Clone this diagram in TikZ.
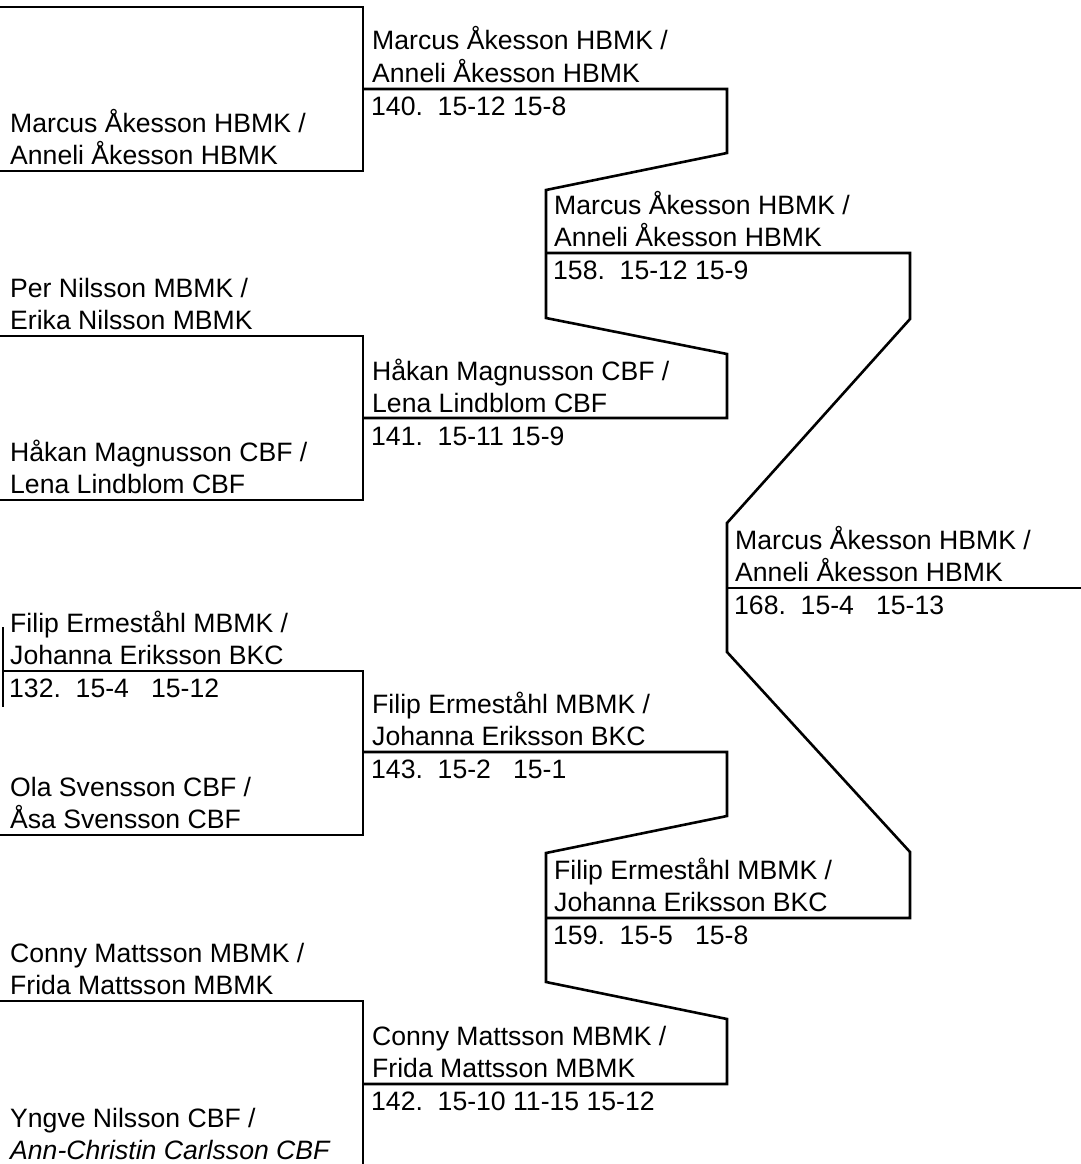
\documentclass[tikz,border=0pt]{standalone}
\usepackage{fontspec}
\setmainfont{Liberation Sans}
\begin{document}
\begin{tikzpicture}[x=1pt,y=-1pt,
  ln/.style={line width=2.6pt, line join=miter},
  txt/.style={anchor=base west, inner sep=0pt, font=\fontsize{26.6}{31}\selectfont},
]
\useasboundingbox (0,0) rectangle (1081,1164);
\clip (0,0) rectangle (1081,1164);

% ---- round 1 brackets ----
\draw[ln] (0,7) -| (363,171) -- (0,171);
\draw[ln] (0,336) -| (363,500) -- (0,500);
\draw[ln] (3,627) -- (3,707);
\draw[ln] (3,671) -| (363,835) -- (0,835);
\draw[ln] (0,1001) -| (363,1170);

% ---- round 2 -> round 3 ----
\draw[ln] (363,89) -- (727,89) -- (727,153) -- (546,190) -- (546,318) -- (727,354) -- (727,418) -- (363,418);
\draw[ln] (363,752) -- (727,752) -- (727,816) -- (546,853) -- (546,982) -- (727,1019) -- (727,1084) -- (363,1084);

% ---- round 3 -> final ----
\draw[ln] (546,253) -- (910,253) -- (910,319) -- (727,523) -- (727,652) -- (910,852) -- (910,918) -- (546,918);
\draw[ln] (727,588) -- (1081,588);

% ---- column 1 texts ----
\node[txt] (a1) at (10,132) {Marcus Åkesson HBMK /};
\node[txt] (a2) at (10,164) {Anneli Åkesson HBMK};
\node[txt] (b1) at (10,297) {Per Nilsson MBMK /};
\node[txt] (b2) at (10,329) {Erika Nilsson MBMK};
\node[txt] (c1) at (10,461) {Håkan Magnusson CBF /};
\node[txt] (c2) at (10,493) {Lena Lindblom CBF};
\node[txt] (d1) at (10,632) {Filip Ermeståhl MBMK /};
\node[txt] (d2) at (10,664) {Johanna Eriksson BKC};
\node[txt] (d3) at (9,697) {132.\ \ 15-4\ \ \ 15-12};
\node[txt] (e1) at (10,796) {Ola Svensson CBF /};
\node[txt] (e2) at (10,828) {Åsa Svensson CBF};
\node[txt] (f1) at (10,962) {Conny Mattsson MBMK /};
\node[txt] (f2) at (10,994) {Frida Mattsson MBMK};
\node[txt] (g1) at (10,1127) {Yngve Nilsson CBF /};
\node[txt] (g2) at (10,1159) {\itshape Ann-Christin Carlsson CBF};

% ---- column 2 texts ----
\node[txt] (m1) at (372,50) {Marcus Åkesson HBMK /};
\node[txt] (m2) at (372,82) {Anneli Åkesson HBMK};
\node[txt] (m3) at (371,115) {140.\ \ 15-12 15-8};
\node[txt] (n1) at (372,380) {Håkan Magnusson CBF /};
\node[txt] (n2) at (372,412) {Lena Lindblom CBF};
\node[txt] (n3) at (371,445) {141.\ \ 15-11 15-9};
\node[txt] (o1) at (372,713) {Filip Ermeståhl MBMK /};
\node[txt] (o2) at (372,745) {Johanna Eriksson BKC};
\node[txt] (o3) at (371,778) {143.\ \ 15-2\ \ \ 15-1};
\node[txt] (p1) at (372,1045) {Conny Mattsson MBMK /};
\node[txt] (p2) at (372,1077) {Frida Mattsson MBMK};
\node[txt] (p3) at (371,1110) {142.\ \ 15-10 11-15 15-12};

% ---- column 3 texts ----
\node[txt] (q1) at (554,214) {Marcus Åkesson HBMK /};
\node[txt] (q2) at (554,246) {Anneli Åkesson HBMK};
\node[txt] (q3) at (553,279) {158.\ \ 15-12 15-9};
\node[txt] (r1) at (554,879) {Filip Ermeståhl MBMK /};
\node[txt] (r2) at (554,911) {Johanna Eriksson BKC};
\node[txt] (r3) at (553,944) {159.\ \ 15-5\ \ \ 15-8};

% ---- column 4 texts ----
\node[txt] (s1) at (735,549) {Marcus Åkesson HBMK /};
\node[txt] (s2) at (735,581) {Anneli Åkesson HBMK};
\node[txt] (s3) at (734,614) {168.\ \ 15-4\ \ \ 15-13};
\end{tikzpicture}
\end{document}
